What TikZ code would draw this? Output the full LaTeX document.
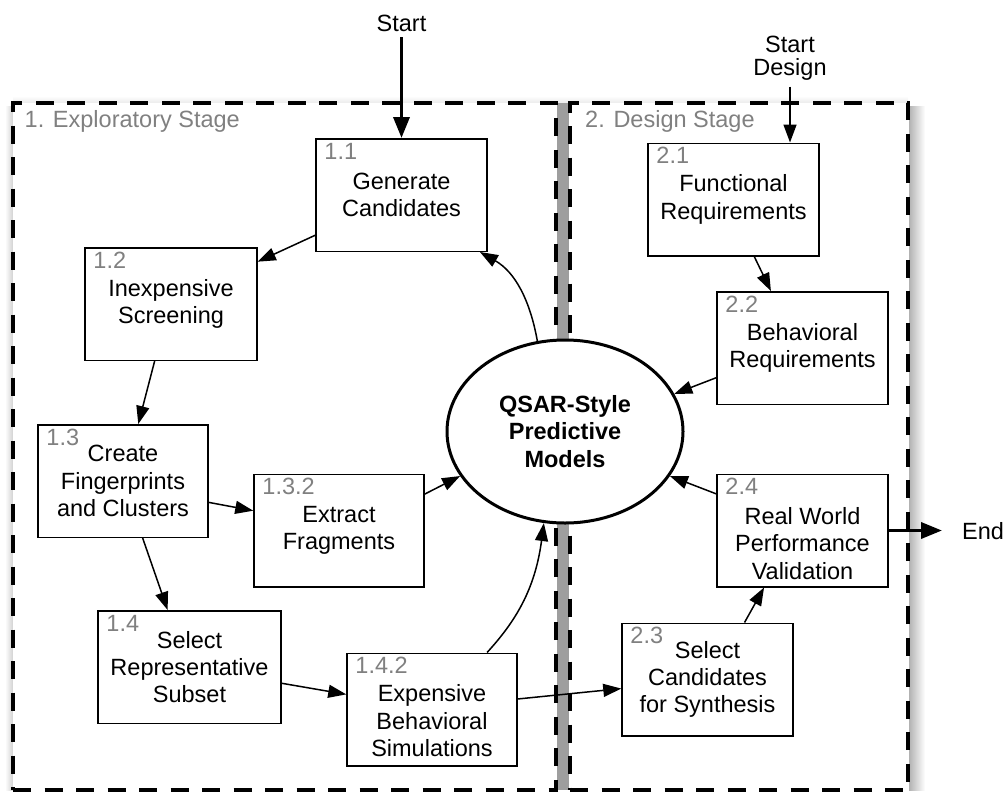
\documentclass[tikz,border=0pt]{standalone}
\usepackage{fontspec}
\setmainfont{Liberation Sans}
\usetikzlibrary{arrows.meta,shapes.geometric}
\begin{document}
\begin{tikzpicture}[x=1pt,y=-1pt,
  txt/.style={font=\fontsize{23.5}{27.3}\selectfont},
  stagebox/.style={draw,line width=3.5pt,dash pattern=on 18pt off 13.5pt,fill=white,inner sep=0,minimum height=687pt},
  stagelabel/.style={txt,text=black!50,anchor=base west,inner sep=0},
  stepbox/.style={draw,line width=1.5pt,fill=white,align=center,inner sep=0,minimum height=112.5pt,txt},
  steptext/.style={txt,align=center,inner sep=0},
  numlabel/.style={txt,text=black!50,anchor=base west,inner sep=0},
  hub/.style={ellipse,draw,line width=3pt,fill=white,align=center,inner sep=0,
    minimum width=236pt,minimum height=183pt,font=\fontsize{23.5}{27.3}\selectfont\bfseries},
  flow/.style={line width=1.5pt,-{Triangle[length=18pt,width=13pt]}},
  heavyflow/.style={line width=3.5pt,-{Triangle[length=21pt,width=16pt]}},
]
\useasboundingbox (0,0) rectangle (1003,792);

% soft shadows of the two stage frames
\shade[top color=white,bottom color=black!8] (13,96) rectangle (908,103);
\shade[left color=white,right color=black!18] (5,106) rectangle (13,790);
\shade[left color=black!30,right color=white] (909,106) rectangle (925,790);
\fill[black!38] (557,103) rectangle (569,790);

% stage frames
\node[stagebox,minimum width=543pt] (stage1) at (284.5,446.5) {};
\node[stagebox,minimum width=338pt] (stage2) at (739,446.5) {};
\node[stagelabel] (stage1lbl) at (24.5,127) {1. Exploratory Stage};
\node[stagelabel] (stage2lbl) at (585,127) {2. Design Stage};

% exploratory stage steps
\node[stepbox,minimum width=171pt] (b11) at (401.5,195) {Generate\\Candidates};
\node[stepbox,minimum width=172pt] (b12) at (171,304) {Inexpensive\\Screening};
\node[stepbox,minimum width=170pt] (b13) at (123,481) {Create\\Fingerprints\\and Clusters};
\node[stepbox,minimum width=170pt] (b132) at (339,530.5) {Extract\\Fragments};
\node[stepbox,minimum width=183pt] (b14) at (189.5,667) {Select\\Representative\\Subset};
\node[stepbox,minimum width=170pt] (b142) at (432,709.5) {};
\node[steptext] (t142) at (432,720.8) {Expensive\\Behavioral\\Simulations};

% design stage steps
\node[stepbox,minimum width=171pt] (b21) at (733.5,199.5) {Functional\\Requirements};
\node[stepbox,minimum width=171pt] (b22) at (802.5,348) {Behavioral\\Requirements};
\node[stepbox,minimum width=171pt] (b23) at (707.5,679.5) {Select\\Candidates\\for Synthesis};
\node[stepbox,minimum width=171pt] (b24) at (802.5,530.5) {};
\node[steptext] (t24) at (802.5,543.5) {Real World\\Performance\\Validation};

% step numbers
\node[numlabel] (n11) at ([xshift=9pt,yshift=-21pt]b11.north west) {1.1};
\node[numlabel] (n12) at ([xshift=9pt,yshift=-21pt]b12.north west) {1.2};
\node[numlabel] (n13) at ([xshift=9pt,yshift=-21pt]b13.north west) {1.3};
\node[numlabel] (n132) at ([xshift=9pt,yshift=-21pt]b132.north west) {1.3.2};
\node[numlabel] (n14) at ([xshift=9pt,yshift=-21pt]b14.north west) {1.4};
\node[numlabel] (n142) at ([xshift=9pt,yshift=-21pt]b142.north west) {1.4.2};
\node[numlabel] (n21) at ([xshift=9pt,yshift=-21pt]b21.north west) {2.1};
\node[numlabel] (n22) at ([xshift=9pt,yshift=-21pt]b22.north west) {2.2};
\node[numlabel] (n23) at ([xshift=9pt,yshift=-21pt]b23.north west) {2.3};
\node[numlabel] (n24) at ([xshift=9pt,yshift=-21pt]b24.north west) {2.4};

% central model
\node[hub] (hub) at (565,431.5) {QSAR-Style\\Predictive\\Models};

% entry and exit labels
\node[txt,anchor=base,inner sep=0] (startlbl) at (401.5,32) {Start};
\node[txt,align=center,inner sep=0,font=\fontsize{23.5}{23}\selectfont] (startdesign) at (790,58.3) {Start\\Design};
\node[txt,anchor=base west,inner sep=0] (finish) at (962,539) {End};

% connectors
\draw[heavyflow,shorten <=5pt] (startlbl.south) -- (b11.north);
\draw[flow,shorten <=6pt] (startdesign.south) -- (b21.north -| startdesign.south);
\draw[heavyflow,shorten >=20pt] (b24.east) -- (b24.east -| finish.west);

\draw[flow] (b11.205.6) -- (b12.26);
\draw[flow] (b12.254) -- (b13.75);
\draw[flow] (b13.346.1) -- (b132.167.1);
\draw[flow] (b13.289.7) -- (b14.111.9);
\draw[flow] (b132.23.8) -- (hub.203);
\draw[flow] (hub.107.2) .. controls (530,300) and (515,272) .. (b11.324.5);
\draw[flow] (b14.350.1) -- (b142.170.3);
\draw[flow] (b142.46.8) .. controls (515,622) and (535,590) .. (hub.257.8);
\draw[flow] (b142.7) -- (b23.186.3);
\draw[flow] (b23.57.1) -- (b24.236.4);
\draw[flow] (b24.157.5) -- (hub.337);
\draw[flow] (b22.199.3) -- (hub.19.3);
\draw[flow] (b21.290.8) -- (b22.119.4);
\end{tikzpicture}
\end{document}
